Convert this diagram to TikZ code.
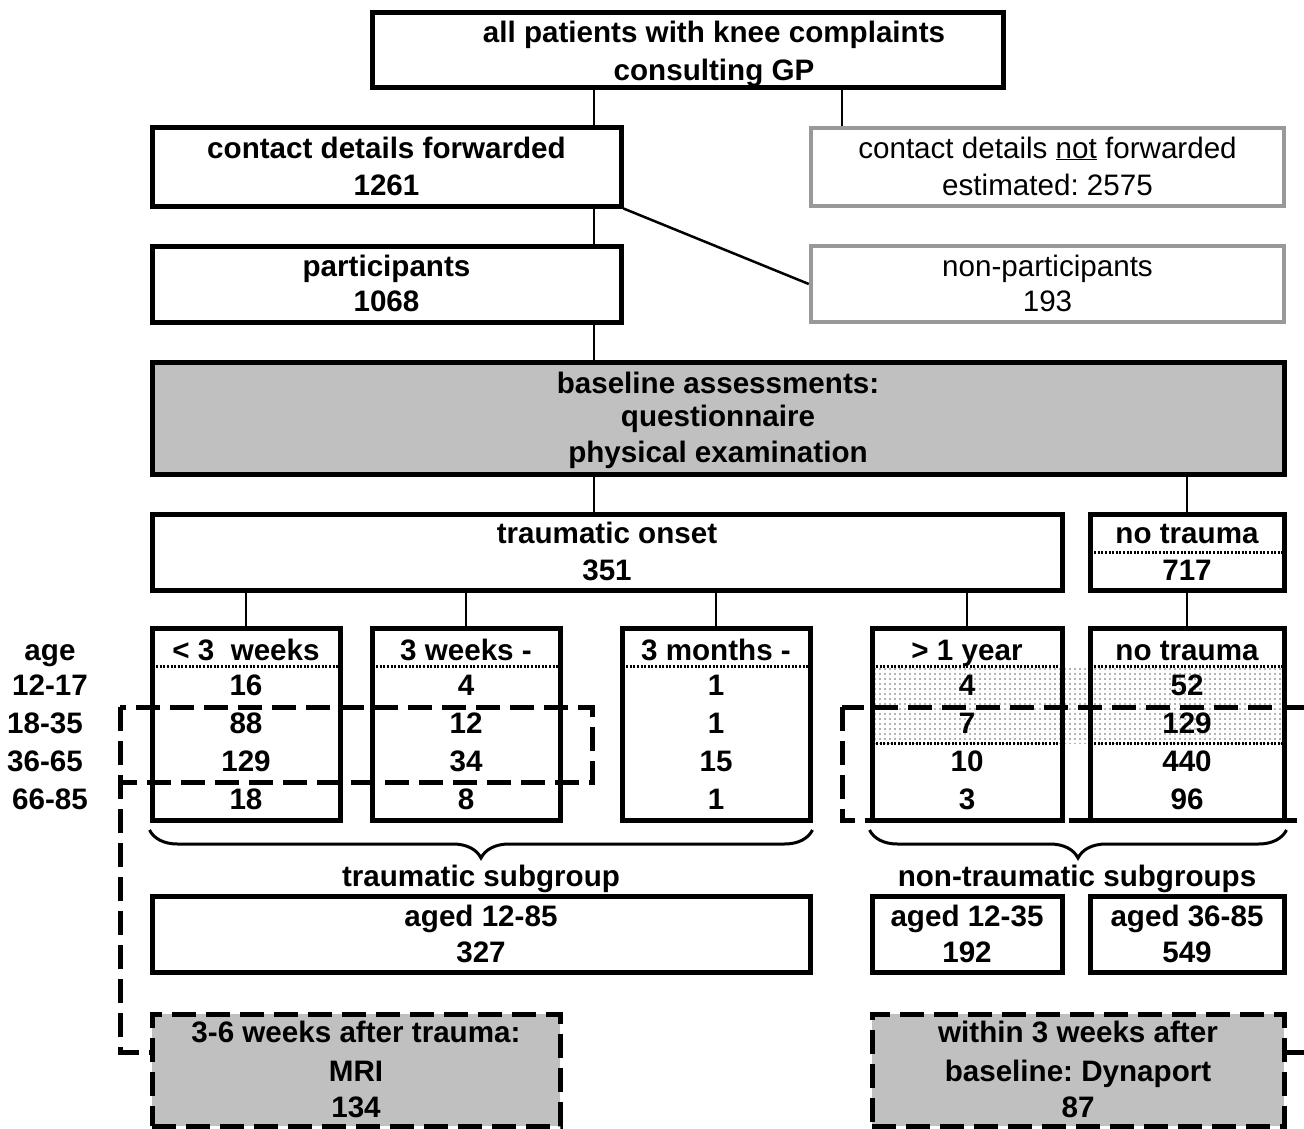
\documentclass[tikz,border=0pt]{standalone}
\usepackage{fontspec}
\setmainfont{Liberation Sans}
\usetikzlibrary{decorations.pathreplacing,patterns.meta}
\definecolor{boxgrey}{HTML}{999999}
\definecolor{fillgrey}{HTML}{C0C0C0}
\frenchspacing
\begin{document}
\frenchspacing
\begin{tikzpicture}[x=1pt,y=-1pt,
  box/.style={draw, line width=5pt, inner sep=0pt},
  greybox/.style={draw=boxgrey, line width=4.5pt, inner sep=0pt},
  shadebox/.style={draw, fill=fillgrey, line width=5pt, inner sep=0pt},
  dashbox/.style={draw, fill=fillgrey, line width=5pt, inner sep=0pt, dash pattern=on 24pt off 10pt},
  txt/.style={anchor=base, inner sep=0pt, font=\fontsize{29.6}{36}\selectfont\bfseries},
  ntxt/.style={anchor=base, inner sep=0pt, font=\fontsize{29.6}{36}\selectfont},
  conn/.style={line width=2.5pt},
  dashline/.style={line width=5pt, dash pattern=on 24pt off 10pt},
  dotline/.style={line width=3pt, dash pattern=on 2pt off 1.6pt},
  bracestyle/.style={line width=3pt, decorate, decoration={brace, mirror, amplitude=28pt}}
]
\useasboundingbox (0,0) rectangle (1304,1129);

% shaded dotted area
\fill[pattern={Dots[distance=5pt,radius=0.8pt]}, pattern color=black!60] (875,666) rectangle (1281,743);

% boxes
\node[box, minimum width=631pt, minimum height=75pt] (top) at (687.5,50.5) {};
\node[box, minimum width=469pt, minimum height=78pt] (fwd) at (386.5,167) {};
\node[greybox, minimum width=473pt, minimum height=78pt] (notfwd) at (1047.5,167) {};
\node[box, minimum width=469pt, minimum height=76pt] (part) at (386.5,284) {};
\node[greybox, minimum width=473pt, minimum height=76pt] (nonpart) at (1047.5,284) {};
\node[shadebox, minimum width=1132pt, minimum height=112pt] (base) at (718,418) {};
\node[box, minimum width=910pt, minimum height=76pt] (onset) at (607,552) {};
\node[box, minimum width=194pt, minimum height=76pt] (notr) at (1187,552) {};
\node[box, minimum width=188pt, minimum height=192pt] (b1) at (246,724) {};
\node[box, minimum width=188pt, minimum height=192pt] (b2) at (466,724) {};
\node[box, minimum width=188pt, minimum height=192pt] (b3) at (716,724) {};
\node[box, minimum width=190pt, minimum height=192pt] (b4) at (967,724) {};
\node[box, minimum width=194pt, minimum height=192pt] (b5) at (1187,724) {};
\node[box, minimum width=658pt, minimum height=76pt] (s1) at (481,934) {};
\node[box, minimum width=190pt, minimum height=76pt] (s2) at (967,934) {};
\node[box, minimum width=194pt, minimum height=76pt] (s3) at (1187,934) {};
\node[dashbox, minimum width=408pt, minimum height=112pt] (mri) at (356,1070) {};
\node[dashbox, minimum width=412pt, minimum height=112pt] (dyn) at (1078,1070) {};

% texts
\node[txt] (t1) at (714,43) {all patients with knee complaints};
\node[txt] (t2) at (714,81) {consulting GP};
\node[txt] (t3) at (386.5,158) {contact details forwarded};
\node[txt] (t4) at (386.5,196) {1261};
\node[ntxt] (t5) at (1047.5,158) {contact details \underline{not} forwarded};
\node[ntxt] (t6) at (1047.5,196) {estimated: 2575};
\node[txt] (t7) at (386.5,276) {participants};
\node[txt] (t8) at (386.5,311) {1068};
\node[ntxt] (t9) at (1047.5,276) {non-participants};
\node[ntxt] (t10) at (1047.5,311) {193};
\node[txt] (t11) at (718,393) {baseline assessments:};
\node[txt] (t12) at (718,426) {questionnaire};
\node[txt] (t13) at (718,462) {physical examination};
\node[txt] (t14) at (607,543) {traumatic onset};
\node[txt] (t15) at (607,580) {351};
\node[txt] (t16) at (1187,543) {no trauma};
\node[txt] (t17) at (1187,580) {717};
\draw[dotline] ([xshift=3pt]notr.west |- 0,552) -- ([xshift=-3pt]notr.east |- 0,552);

% small box headers and rows
\node[txt] (h1) at (246,660) {< 3\ \ weeks};
\node[txt] (h2) at (466,660) {3 weeks -};
\node[txt] (h3) at (716,660) {3 months -};
\node[txt] (h4) at (967,660) {> 1 year};
\node[txt] (h5) at (1187,660) {no trauma};
\foreach \b in {b1,b2,b3,b4,b5}{
  \draw[dotline] ([xshift=3pt]\b.west |- 0,666) -- ([xshift=-3pt]\b.east |- 0,666);
}
\foreach \b in {b4,b5}{
  \draw[dotline] ([xshift=3pt]\b.west |- 0,743) -- ([xshift=-3pt]\b.east |- 0,743);
}
\node[txt] (ag) at (50,660) {age};
\node[txt] (a1) at (50,695) {12-17};
\node[txt] (a2) at (45,733) {18-35};
\node[txt] (a3) at (45,771) {36-65};
\node[txt] (a4) at (50,809) {66-85};
\node[txt] (r11) at (246,695) {16};
\node[txt] (r12) at (246,733) {88};
\node[txt] (r13) at (246,771) {129};
\node[txt] (r14) at (246,809) {18};
\node[txt] (r21) at (466,695) {4};
\node[txt] (r22) at (466,733) {12};
\node[txt] (r23) at (466,771) {34};
\node[txt] (r24) at (466,809) {8};
\node[txt] (r31) at (716,695) {1};
\node[txt] (r32) at (716,733) {1};
\node[txt] (r33) at (716,771) {15};
\node[txt] (r34) at (716,809) {1};
\node[txt] (r41) at (967,695) {4};
\node[txt] (r42) at (967,733) {7};
\node[txt] (r43) at (967,771) {10};
\node[txt] (r44) at (967,809) {3};
\node[txt] (r51) at (1187,695) {52};
\node[txt] (r52) at (1187,733) {129};
\node[txt] (r53) at (1187,771) {440};
\node[txt] (r54) at (1187,809) {96};

% subgroup labels and boxes
\node[txt] (l1) at (481,886) {traumatic subgroup};
\node[txt] (l2) at (1077,886) {non-traumatic subgroups};
\node[txt] (u1) at (481,926) {aged 12-85};
\node[txt] (u2) at (481,962) {327};
\node[txt] (u3) at (967,926) {aged 12-35};
\node[txt] (u4) at (967,962) {192};
\node[txt] (u5) at (1187,926) {aged 36-85};
\node[txt] (u6) at (1187,962) {549};
\node[txt] (m1) at (356,1042) {3-6 weeks after trauma:};
\node[txt] (m2) at (356,1081) {MRI};
\node[txt] (m3) at (356,1117) {134};
\node[txt] (d1) at (1078,1042) {within 3 weeks after};
\node[txt] (d2) at (1078,1081) {baseline: Dynaport};
\node[txt] (d3) at (1078,1117) {87};

% braces
\draw[bracestyle] (b1.south west |- 0,830) -- (b3.south east |- 0,830);
\draw[bracestyle] (b4.south west |- 0,830) -- (b5.south east |- 0,830);

% connectors
\coordinate (xa) at (594,0);
\coordinate (xb) at (842,0);
\draw[conn] (top.south -| xa) -- (fwd.north -| xa);
\draw[conn] (top.south -| xb) -- (notfwd.north -| xb);
\draw[conn] (fwd.south -| xa) -- (part.north -| xa);
\draw[conn] (fwd.south east) -- (nonpart.west);
\draw[conn] (part.south -| xa) -- (base.north -| xa);
\draw[conn] (base.south -| xa) -- (onset.north -| xa);
\draw[conn] (base.south -| notr.north) -- (notr.north);
\foreach \b in {b1,b2,b3,b4}{
  \draw[conn] (onset.south -| \b.north) -- (\b.north);
}
\draw[conn] (notr.south) -- (b5.north);

% dashed selection frames
\coordinate (la) at (120,707);
\coordinate (lb) at (592,782);
\coordinate (lc) at (120,1052);
\draw[dashline] (la) rectangle (lb);
\draw[dashline] (la) -- (lc) -- (lc -| mri.west);
\coordinate (ra) at (842,707);
\coordinate (rb) at (1318,820);
\coordinate (rc) at (1312,820);
\coordinate (rd) at (1312,1052);
\draw[dashline] (ra) rectangle (rb);
\draw[dashline] (rc) -- (rd) -- (rd -| dyn.east);
\end{tikzpicture}
\end{document}
